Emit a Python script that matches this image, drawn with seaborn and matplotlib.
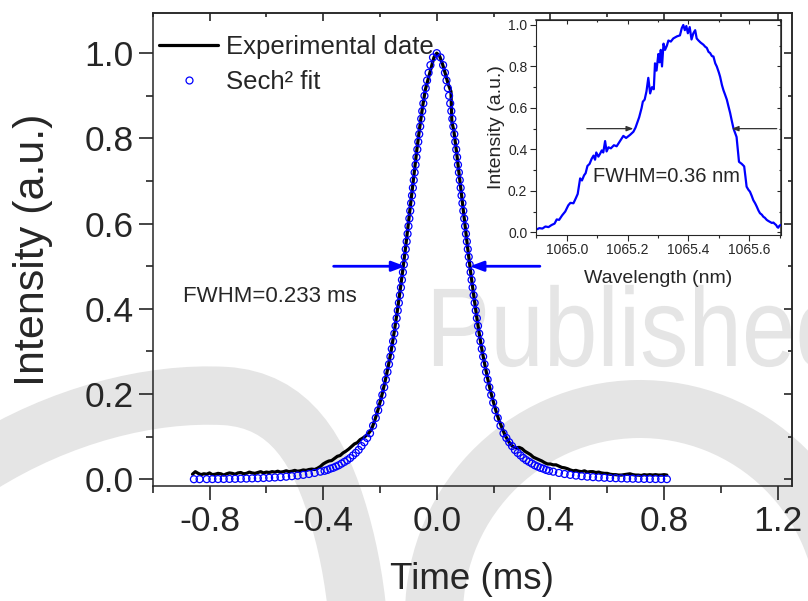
import numpy as np
import pandas as pd
import matplotlib
matplotlib.use("Agg")
import matplotlib.pyplot as plt
import seaborn as sns
from matplotlib.ticker import MultipleLocator, FuncFormatter
from matplotlib.lines import Line2D
from matplotlib.patches import Wedge, PathPatch
from matplotlib.path import Path
from matplotlib.textpath import TextPath
from matplotlib.font_manager import FontProperties
from matplotlib.transforms import Affine2D

# ---------------- data ----------------
# Sech^2 fit (open blue circles): right half, mirrored for the left half
fit_t_half = [0.0, 0.0133, 0.0223, 0.0288, 0.0342, 0.0389, 0.0433, 0.0473, 0.0512, 0.0548,
              0.0583, 0.0618, 0.0651, 0.0684, 0.0716, 0.0747, 0.0779, 0.0810, 0.0841, 0.0872,
              0.0903, 0.0934, 0.0965, 0.0996, 0.1028, 0.1060, 0.1092, 0.1125, 0.1158, 0.1192,
              0.1226, 0.1261, 0.1297, 0.1334, 0.1373, 0.1412, 0.1452, 0.1494, 0.1538, 0.1584,
              0.1632, 0.1682, 0.1735, 0.1791, 0.1851, 0.1916, 0.1986, 0.2062, 0.2147, 0.2242,
              0.2350, 0.245, 0.255, 0.265, 0.275, 0.285, 0.295, 0.305, 0.315, 0.325,
              0.335, 0.345, 0.355, 0.365, 0.375, 0.385, 0.395, 0.41, 0.43, 0.45,
              0.47, 0.49, 0.51, 0.53, 0.55, 0.57, 0.59, 0.61, 0.63, 0.65,
              0.67, 0.69, 0.71, 0.73, 0.75, 0.77, 0.79, 0.81]
fit_v_half = [1.0, 0.990, 0.972, 0.954, 0.936, 0.918, 0.900, 0.882, 0.864, 0.846,
              0.828, 0.810, 0.792, 0.774, 0.756, 0.738, 0.720, 0.702, 0.684, 0.666,
              0.648, 0.630, 0.612, 0.594, 0.576, 0.558, 0.540, 0.522, 0.504, 0.486,
              0.468, 0.450, 0.432, 0.414, 0.396, 0.378, 0.360, 0.342, 0.324, 0.306,
              0.288, 0.270, 0.252, 0.234, 0.216, 0.198, 0.180, 0.162, 0.144, 0.126,
              0.108, 0.097, 0.087, 0.078, 0.069, 0.062, 0.056, 0.050, 0.045, 0.041,
              0.037, 0.033, 0.030, 0.027, 0.025, 0.022, 0.020, 0.018, 0.015, 0.0125,
              0.0105, 0.0088, 0.0074, 0.0062, 0.0052, 0.0044, 0.0037, 0.0031, 0.0026, 0.0022,
              0.0018, 0.0015, 0.0012, 0.0010, 0.0008, 0.0007, 0.0006, 0.0005]
fit_t_left_extra = [-0.855, -0.835]
fit_v_left_extra = [0.0003, 0.0004]

# Experimental trace (black line)
exp_t = [-0.86, -0.85, -0.84, -0.83, -0.82, -0.81, -0.80, -0.79, -0.78, -0.77,
         -0.76, -0.75, -0.74, -0.73, -0.72, -0.71, -0.70, -0.69, -0.68, -0.67,
         -0.66, -0.65, -0.64, -0.63, -0.62, -0.61, -0.60, -0.59, -0.58, -0.57,
         -0.56, -0.55, -0.54, -0.53, -0.52, -0.51, -0.50, -0.49, -0.48, -0.47,
         -0.46, -0.45, -0.44, -0.43, -0.42, -0.41, -0.40, -0.39, -0.38, -0.37,
         -0.36, -0.35, -0.34, -0.33, -0.32, -0.31, -0.30, -0.29, -0.28, -0.27,
         -0.26, -0.25, -0.24, -0.23, -0.22, -0.21, -0.20, -0.19, -0.18, -0.17,
         -0.16, -0.15, -0.14, -0.13, -0.12, -0.11, -0.10, -0.09, -0.08, -0.07,
         -0.06, -0.05, -0.04, -0.03, -0.02, -0.01, 0.00, 0.01, 0.02, 0.03,
         0.04, 0.047, 0.050, 0.053, 0.06, 0.07, 0.08, 0.09, 0.10, 0.11,
         0.12, 0.13, 0.14, 0.15, 0.16, 0.17, 0.18, 0.19, 0.20, 0.21,
         0.22, 0.23, 0.24, 0.25, 0.26, 0.27, 0.28, 0.29, 0.30, 0.31,
         0.32, 0.33, 0.34, 0.35, 0.36, 0.37, 0.38, 0.39, 0.40, 0.41,
         0.42, 0.43, 0.44, 0.45, 0.46, 0.47, 0.48, 0.49, 0.50, 0.51,
         0.52, 0.53, 0.54, 0.55, 0.56, 0.57, 0.58, 0.59, 0.60, 0.61,
         0.62, 0.63, 0.64, 0.65, 0.66, 0.67, 0.68, 0.69, 0.70, 0.71,
         0.72, 0.73, 0.74, 0.75, 0.76, 0.77, 0.78, 0.79, 0.80, 0.81]
exp_v = [0.012, 0.018, 0.014, 0.011, 0.013, 0.012, 0.015, 0.011, 0.012, 0.014,
         0.013, 0.010, 0.013, 0.015, 0.014, 0.012, 0.015, 0.016, 0.013, 0.014,
         0.017, 0.015, 0.014, 0.016, 0.018, 0.015, 0.017, 0.016, 0.018, 0.017,
         0.019, 0.017, 0.018, 0.020, 0.018, 0.019, 0.021, 0.019, 0.020, 0.022,
         0.021, 0.023, 0.024, 0.023, 0.026, 0.030, 0.036, 0.040, 0.043, 0.044,
         0.049, 0.054, 0.056, 0.062, 0.066, 0.071, 0.077, 0.083, 0.086, 0.093,
         0.097, 0.102, 0.108, 0.117, 0.135, 0.156, 0.180, 0.206, 0.236, 0.268,
         0.304, 0.345, 0.390, 0.438, 0.489, 0.543, 0.600, 0.658, 0.716, 0.774,
         0.826, 0.874, 0.915, 0.940, 0.965, 0.990, 1.000, 0.993, 0.975, 0.952,
         0.928, 0.915, 0.910, 0.840, 0.818, 0.766, 0.708, 0.650, 0.592, 0.536,
         0.482, 0.432, 0.384, 0.340, 0.300, 0.266, 0.234, 0.205, 0.180, 0.157,
         0.137, 0.120, 0.104, 0.092, 0.082, 0.076, 0.074, 0.075, 0.072, 0.066,
         0.062, 0.058, 0.052, 0.049, 0.046, 0.043, 0.039, 0.036, 0.036, 0.034,
         0.034, 0.031, 0.028, 0.027, 0.025, 0.022, 0.020, 0.021, 0.019, 0.018,
         0.020, 0.017, 0.018, 0.018, 0.016, 0.017, 0.015, 0.014, 0.014, 0.012,
         0.011, 0.011, 0.010, 0.010, 0.011, 0.012, 0.013, 0.011, 0.010, 0.010,
         0.009, 0.011, 0.010, 0.011, 0.010, 0.011, 0.010, 0.010, 0.011, 0.010]

# Inset: optical spectrum
wl = [1064.898, 1064.91, 1064.92, 1064.93, 1064.94, 1064.95, 1064.96, 1064.967, 1064.975, 1064.985,
      1064.995, 1065.005, 1065.012, 1065.022, 1065.030, 1065.036, 1065.044, 1065.050, 1065.057, 1065.062,
      1065.068, 1065.075, 1065.082, 1065.088, 1065.093, 1065.097, 1065.104, 1065.110, 1065.115, 1065.120,
      1065.126, 1065.131, 1065.137, 1065.145, 1065.155, 1065.164, 1065.175, 1065.186, 1065.195, 1065.208,
      1065.219, 1065.226, 1065.232, 1065.238, 1065.246, 1065.250, 1065.256, 1065.262, 1065.268, 1065.274,
      1065.280, 1065.286, 1065.290, 1065.295, 1065.301, 1065.305, 1065.309, 1065.313, 1065.318, 1065.323,
      1065.329, 1065.334, 1065.342, 1065.350, 1065.362, 1065.372, 1065.378, 1065.383, 1065.388, 1065.393,
      1065.398, 1065.404, 1065.410, 1065.416, 1065.422, 1065.427, 1065.433, 1065.440, 1065.449, 1065.455,
      1065.460, 1065.466, 1065.471, 1065.477, 1065.482, 1065.488, 1065.493, 1065.500, 1065.504, 1065.510,
      1065.515, 1065.520, 1065.526, 1065.531, 1065.537, 1065.542, 1065.548, 1065.553, 1065.558, 1065.562,
      1065.566, 1065.575, 1065.583, 1065.587, 1065.591, 1065.597, 1065.602, 1065.608, 1065.613, 1065.619,
      1065.624, 1065.630, 1065.635, 1065.641, 1065.646, 1065.651, 1065.657, 1065.662, 1065.668, 1065.674,
      1065.679, 1065.684, 1065.688, 1065.692, 1065.695, 1065.698, 1065.702]
spec = [0.012, 0.020, 0.018, 0.028, 0.025, 0.035, 0.042, 0.062, 0.060, 0.082,
        0.100, 0.130, 0.142, 0.140, 0.165, 0.185, 0.260, 0.250, 0.275, 0.285,
        0.320, 0.330, 0.355, 0.370, 0.350, 0.385, 0.365, 0.380, 0.395, 0.385,
        0.440, 0.390, 0.410, 0.405, 0.420, 0.415, 0.440, 0.465, 0.455, 0.470,
        0.485, 0.505, 0.530, 0.555, 0.600, 0.630, 0.640, 0.680, 0.745, 0.670,
        0.700, 0.690, 0.815, 0.780, 0.860, 0.820, 0.880, 0.800, 0.910, 0.880,
        0.900, 0.925, 0.920, 0.935, 0.945, 0.950, 0.985, 1.000, 0.975, 0.995,
        0.960, 0.990, 0.930, 0.960, 0.975, 0.935, 0.925, 0.915, 0.905, 0.895,
        0.890, 0.870, 0.865, 0.850, 0.848, 0.815, 0.800, 0.770, 0.750, 0.710,
        0.685, 0.665, 0.640, 0.610, 0.575, 0.540, 0.500, 0.480, 0.460, 0.400,
        0.340, 0.330, 0.318, 0.270, 0.220, 0.205, 0.196, 0.175, 0.155, 0.140,
        0.125, 0.105, 0.092, 0.085, 0.075, 0.070, 0.060, 0.055, 0.050, 0.045,
        0.047, 0.040, 0.035, 0.025, 0.022, 0.030, 0.035]

# FWHM markers
main_half_level = 0.5
main_arrow_left = (-0.363, -0.111)   # tail, tip
main_arrow_right = (0.363, 0.117)
inset_half_level = 0.5
inset_arrow_left = (1065.066, 1065.219)
inset_arrow_right = (1065.69, 1065.542)

# ---------------- assemble ----------------
fit_t = fit_t_left_extra + [-v for v in fit_t_half[::-1]] + fit_t_half[1:]
fit_v = fit_v_left_extra + fit_v_half[::-1] + fit_v_half[1:]
fit_df = pd.DataFrame({"t": fit_t, "v": fit_v})
exp_df = pd.DataFrame({"t": exp_t, "v": exp_v})
spec_df = pd.DataFrame({"wl": wl, "v": spec})

sns.set_style("ticks")
plt.rcParams["font.family"] = ["Liberation Sans", "DejaVu Sans"]
plt.rcParams["axes.linewidth"] = 1.1

W, H = 808, 601
fig = plt.figure(figsize=(W / 100, H / 100), dpi=100)

# ---------------- watermark (pixel coordinates, y measured from top) ----------------
wm = "#e5e5e5"
tp = TextPath((0, 0), "Published", size=112, prop=FontProperties(family="Liberation Sans"))
fig.add_artist(PathPatch(tp, transform=Affine2D().scale(0.86, 1.0).translate(426, H - 366),
                         facecolor=wm, edgecolor="none", zorder=-2))
band_pts = [(-20, 465), (60, 415), (150, 392), (225, 396),
            (290, 400), (320, 450), (340, 520),
            (350, 555), (356, 590), (360, 640)]
band_codes = [Path.MOVETO] + [Path.CURVE4] * 9
band = Path([(x, H - y) for x, y in band_pts], band_codes)
fig.add_artist(PathPatch(band, transform=Affine2D(), facecolor="none", edgecolor=wm,
                         lw=42, capstyle="butt", zorder=-2))
fig.add_artist(Wedge((640, H - 615), 235, 0, 182, width=58, transform=Affine2D(),
                     facecolor=wm, edgecolor="none", zorder=-2))

# ---------------- main axes ----------------
ax = fig.add_axes([0.189, 0.1913, 0.791, 0.7876])
ax.patch.set_alpha(0)

sns.lineplot(data=exp_df, x="t", y="v", ax=ax, color="black", lw=2.3,
             errorbar=None, zorder=2, legend=False)
sns.scatterplot(data=fit_df, x="t", y="v", ax=ax, marker="o", s=25,
                facecolor="none", edgecolor="#0000ff", linewidth=0.9,
                zorder=3, legend=False)

ax.set_xlim(-1.0, 1.25)
ax.set_ylim(-0.0157, 1.095)
fmt = FuncFormatter(lambda v, p: f"{v:.1f}")
ax.xaxis.set_major_locator(MultipleLocator(0.4))
ax.xaxis.set_minor_locator(MultipleLocator(0.2))
ax.yaxis.set_major_locator(MultipleLocator(0.2))
ax.yaxis.set_minor_locator(MultipleLocator(0.1))
ax.xaxis.set_major_formatter(fmt)
ax.yaxis.set_major_formatter(fmt)
ax.tick_params(which="major", direction="out", length=10, width=1.2, labelsize=25.5, pad=4)
ax.tick_params(which="minor", direction="out", length=5, width=1.2)
sec_x = ax.secondary_xaxis("top")
sec_x.xaxis.set_major_locator(MultipleLocator(0.4))
sec_x.xaxis.set_minor_locator(MultipleLocator(0.2))
sec_x.tick_params(which="major", direction="in", length=6, width=1.2, labeltop=False)
sec_x.tick_params(which="minor", direction="in", length=3, width=1.2)
sec_y = ax.secondary_yaxis("right")
sec_y.yaxis.set_major_locator(MultipleLocator(0.2))
sec_y.yaxis.set_minor_locator(MultipleLocator(0.1))
sec_y.tick_params(which="major", direction="in", length=6, width=1.2, labelright=False)
sec_y.tick_params(which="minor", direction="in", length=3, width=1.2)

ax.set_xlabel("Time (ms)", fontsize=26.5, labelpad=17)
ax.set_ylabel("Intensity (a.u.)", fontsize=31, labelpad=22)

arrow_kw = dict(arrowstyle="-|>,head_length=0.8,head_width=0.3", color="#0000ff", lw=2,
                shrinkA=0, shrinkB=0)
ax.annotate("", xy=(main_arrow_left[1], main_half_level), xytext=(main_arrow_left[0], main_half_level),
            arrowprops=arrow_kw, zorder=4)
ax.annotate("", xy=(main_arrow_right[1], main_half_level), xytext=(main_arrow_right[0], main_half_level),
            arrowprops=arrow_kw, zorder=4)
ax.text(-0.895, 0.43, "FWHM=0.233 ms", fontsize=16, ha="left", va="center")

handles = [Line2D([], [], color="black", lw=2.3),
           Line2D([], [], ls="none", marker="o", ms=5, mfc="none", mec="#0000ff", mew=0.9)]
ax.legend(handles, ["Experimental date", "Sech² fit"], loc="upper left",
          bbox_to_anchor=(-0.014, 0.985), frameon=False, fontsize=18.5,
          handlelength=2.3, handletextpad=0.3, labelspacing=0.42, borderaxespad=0.2)

# ---------------- inset ----------------
axi = fig.add_axes([0.663, 0.609, 0.3032, 0.3577])
sns.lineplot(data=spec_df, x="wl", y="v", ax=axi, color="#0000ff", lw=1.6,
             errorbar=None, legend=False, sort=False)
axi.set_xlim(1064.898, 1065.703)
axi.set_ylim(-0.013, 1.024)
axi.xaxis.set_major_locator(MultipleLocator(0.2))
axi.xaxis.set_minor_locator(MultipleLocator(0.1))
axi.yaxis.set_major_locator(MultipleLocator(0.2))
axi.yaxis.set_minor_locator(MultipleLocator(0.1))
axi.xaxis.set_major_formatter(fmt)
axi.yaxis.set_major_formatter(fmt)
axi.tick_params(which="major", direction="out", length=4, width=0.8, labelsize=10, pad=2)
axi.tick_params(which="minor", direction="out", length=2, width=0.8)
for sp in axi.spines.values():
    sp.set_linewidth(0.8)
ix = axi.secondary_xaxis("top")
ix.xaxis.set_major_locator(MultipleLocator(0.2))
ix.xaxis.set_minor_locator(MultipleLocator(0.1))
ix.tick_params(which="major", direction="in", length=3, width=0.8, labeltop=False)
ix.tick_params(which="minor", direction="in", length=1.5, width=0.8)
iy = axi.secondary_yaxis("right")
iy.yaxis.set_major_locator(MultipleLocator(0.2))
iy.yaxis.set_minor_locator(MultipleLocator(0.1))
iy.tick_params(which="major", direction="in", length=3, width=0.8, labelright=False)
iy.tick_params(which="minor", direction="in", length=1.5, width=0.8)
axi.set_xlabel("Wavelength (nm)", fontsize=14, labelpad=9)
axi.set_ylabel("Intensity (a.u.)", fontsize=14, labelpad=2)

ia_kw = dict(arrowstyle="-|>,head_length=0.4,head_width=0.15", color="#333333", lw=0.9,
             shrinkA=0, shrinkB=0)
axi.annotate("", xy=(inset_arrow_left[1], inset_half_level), xytext=(inset_arrow_left[0], inset_half_level),
             arrowprops=ia_kw)
axi.annotate("", xy=(inset_arrow_right[1], inset_half_level), xytext=(inset_arrow_right[0], inset_half_level),
             arrowprops=ia_kw)
axi.text(1065.085, 0.27, "FWHM=0.36 nm", fontsize=14.5, ha="left", va="center")

fig.savefig("out.png", dpi=100)
